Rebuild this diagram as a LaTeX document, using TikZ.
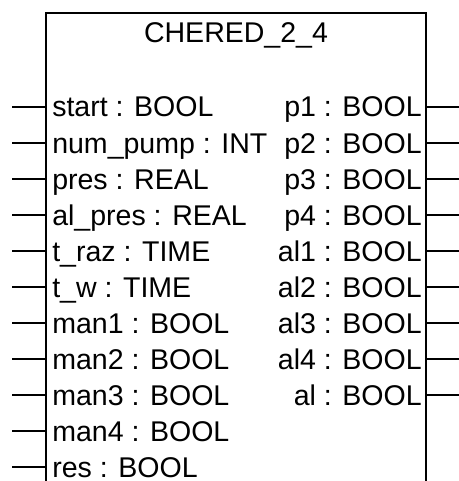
\documentclass[tikz,border=0pt]{standalone}
\usepackage{fontspec}
\setmainfont{Liberation Sans}
\begin{document}
\begin{tikzpicture}
      [%%%%%%%%%%%%%%%%%%%%%%%%%%%%%%
      x=0.75pt,y=-0.75pt,
      pin/.style={draw=black,line width=1.1pt},
      port/.style={inner sep=0pt,font=\fontsize{21.4}{24}\selectfont},
      ]%%%%%%%%%%%%%%%%%%%%%%%%%%%%%%
      \useasboundingbox (0,0) rectangle (459,481);

      % block outline (open at the bottom)
      \coordinate (bl) at (46,13);
      \coordinate (br) at (426,13);
      \draw[pin] (46,481) -- (bl) -- (br) -- (426,481);
      \node[port,anchor=base] (title) at (236,43) {CHERED\_2\_4};

      % inputs
      \foreach \lab [count=\i from 0] in {start : BOOL, num\_pump : INT, pres : REAL, al\_pres : REAL, t\_raz : TIME, t\_w : TIME, man1 : BOOL, man2 : BOOL, man3 : BOOL, man4 : BOOL, res : BOOL}{
        \node[port,anchor=base west] (in\i) at (52,117+36*\i) {\lab};
        \coordinate (pi\i) at (12,107+36*\i);
        \draw[pin] (pi\i) -- (pi\i -| bl);
      }

      % outputs
      \foreach \lab [count=\i from 0] in {p1 : BOOL, p2 : BOOL, p3 : BOOL, p4 : BOOL, al1 : BOOL, al2 : BOOL, al3 : BOOL, al4 : BOOL, al : BOOL}{
        \node[port,anchor=base east] (out\i) at (422,117+36*\i) {\lab};
        \coordinate (po\i) at (459,107+36*\i);
        \draw[pin] (po\i -| br) -- (po\i);
      }
    \end{tikzpicture}
\end{document}
